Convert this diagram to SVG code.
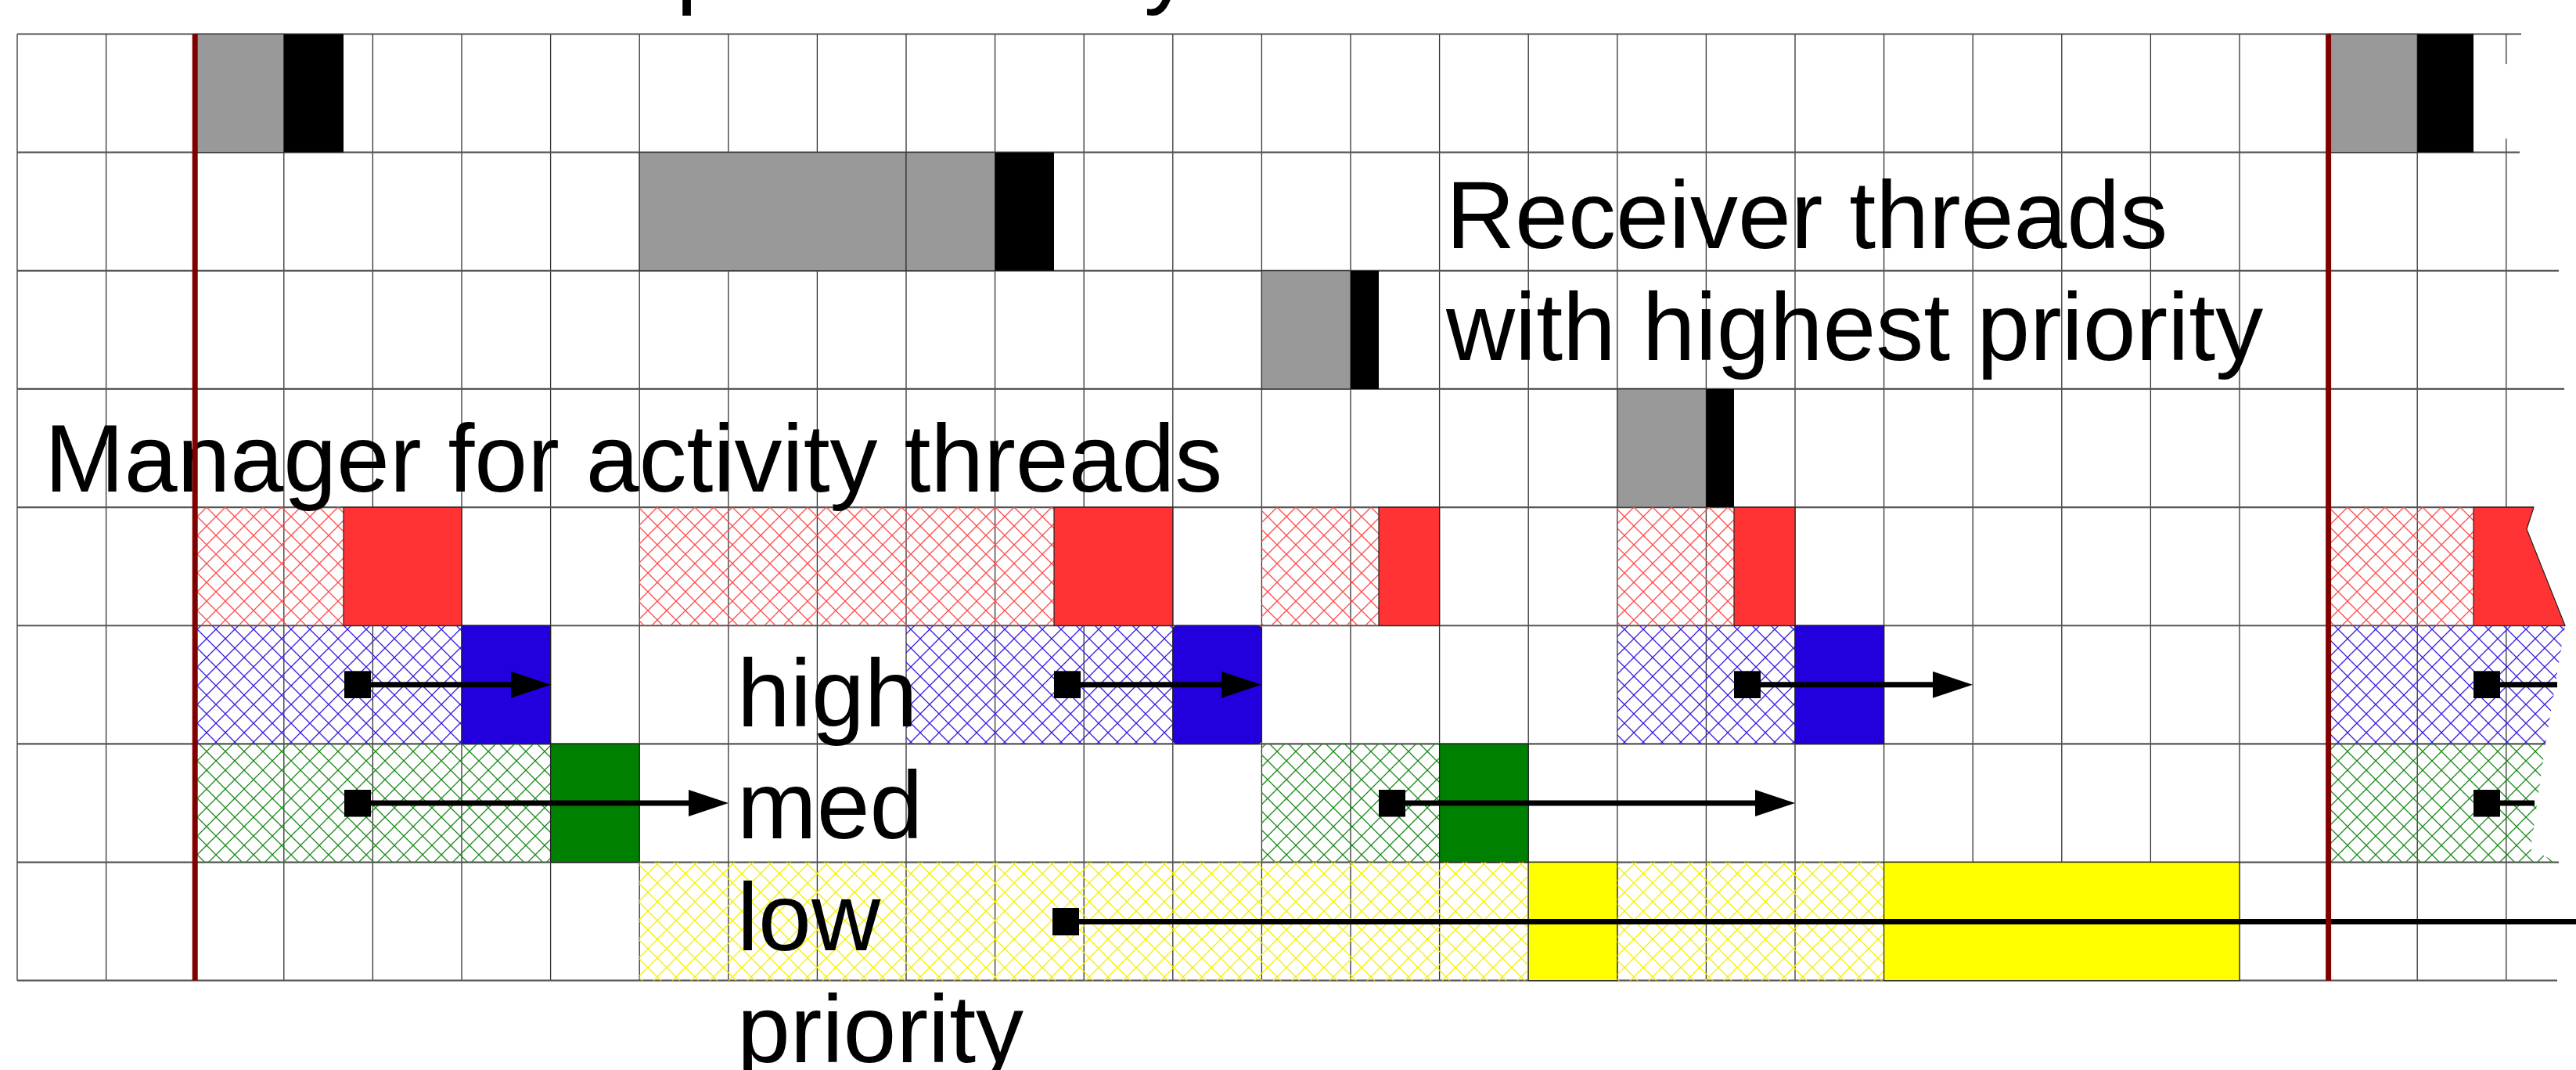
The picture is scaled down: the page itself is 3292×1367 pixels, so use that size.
<svg xmlns="http://www.w3.org/2000/svg" width="3292" height="1367" viewBox="0 0 3292 1367">
<style>
.lbl{font-family:"Liberation Sans",Arial,sans-serif;font-size:122px;fill:#000}
.vg{stroke:#333;stroke-width:1.3;fill:none}
.hg{stroke:#555;stroke-width:2.2;fill:none}
.gray{fill:#999;stroke:#333;stroke-width:1.2}
.blk{fill:#000}
.hr{fill:url(#hatchR)}
.hb{fill:url(#hatchB)}
.hgr{fill:url(#hatchG)}
.hy{fill:url(#hatchY)}
.sr{fill:#ff3333;stroke:#222;stroke-width:1.2}
.sb{fill:#2200dd;stroke:#222;stroke-width:1.2}
.sg{fill:#008000;stroke:#222;stroke-width:1.2}
.sy{fill:#ffff00;stroke:#222;stroke-width:1.2}
.conn{stroke:#000;stroke-width:7;fill:none;marker-start:url(#sq)}
.arr{marker-end:url(#ah)}
.deadline{stroke:#800000;stroke-width:7}
</style>
<defs>
<pattern id="hatchR" patternUnits="userSpaceOnUse" width="24" height="24"><path d="M0,0L24,24M24,0L0,24" stroke="#ff4a4a" stroke-width="1.3" fill="none"/></pattern>
<pattern id="hatchB" patternUnits="userSpaceOnUse" width="24" height="24"><path d="M0,0L24,24M24,0L0,24" stroke="#3a1ae0" stroke-width="1.3" fill="none"/></pattern>
<pattern id="hatchG" patternUnits="userSpaceOnUse" width="24" height="24"><path d="M0,0L24,24M24,0L0,24" stroke="#1a8a1a" stroke-width="1.3" fill="none"/></pattern>
<pattern id="hatchY" patternUnits="userSpaceOnUse" width="24" height="24"><path d="M0,0L24,24M24,0L0,24" stroke="#f5f000" stroke-width="1.3" fill="none"/></pattern>
<marker id="sq" markerUnits="userSpaceOnUse" markerWidth="34" markerHeight="35" refX="0" refY="17.5" orient="auto"><rect width="34" height="35" fill="#000"/></marker>
<marker id="ah" markerUnits="userSpaceOnUse" markerWidth="51" markerHeight="34" refX="30" refY="17" orient="auto"><path d="M0,0L51,17L0,34z" fill="#000"/></marker>
</defs>
<rect width="3292" height="1367" fill="#fff"/>

<g id="title-fragments">
<text class="lbl" x="864" y="-5">p</text>
<text class="lbl" x="1462" y="-5">y</text>
</g>

<g id="grid">
<path class="vg" d="M22,43.5V1252.7M135.6,43.5V1252.7M249.2,43.5V1252.7M362.8,43.5V1252.7M476.4,43.5V1252.7M590,43.5V1252.7M703.6,43.5V1252.7M817.2,43.5V1252.7M930.8,43.5V1252.7M1044.4,43.5V1252.7M1158,43.5V1252.7M1271.6,43.5V1252.7M1385.2,43.5V1252.7M1498.8,43.5V1252.7M1612.4,43.5V1252.7M1726,43.5V1252.7M1839.6,43.5V1252.7M1953.2,43.5V1252.7M2066.8,43.5V1252.7M2180.4,43.5V1252.7M2294,43.5V1252.7M2407.6,43.5V1252.7M2521.2,43.5V1252.7M2634.8,43.5V1252.7M2748.4,43.5V1252.7M2862,43.5V1252.7M2975.6,43.5V1252.7M3089.2,43.5V1252.7M3202.8,43.5V82M3202.8,177V1252.7"/>
<path class="hg" d="M22,43.5H3222M22,194.65H3220M22,345.8H3270M22,496.95H3277M22,648.1H3238M22,799.25H3278M22,950.4H3253M22,1101.55H3270M22,1252.7H3268"/>
</g>

<g id="receiver-1"><rect class="gray" x="249.2" y="43.5" width="113.6" height="151.15"/><rect class="blk" x="362.8" y="43.5" width="76.2" height="151.15"/></g>
<g id="receiver-1b"><rect class="gray" x="2975.6" y="43.5" width="113.6" height="151.15"/><rect class="blk" x="3089.2" y="43.5" width="71.8" height="151.15"/></g>
<g id="receiver-2"><rect class="gray" x="817.2" y="194.65" width="340.8" height="151.15"/><rect class="gray" x="1158" y="194.65" width="113.6" height="151.15"/><rect class="blk" x="1271.6" y="194.65" width="75.4" height="151.15"/></g>
<g id="receiver-3"><rect class="gray" x="1612.4" y="345.8" width="113.6" height="151.15"/><rect class="blk" x="1726" y="345.8" width="36" height="151.15"/></g>
<g id="receiver-4"><rect class="gray" x="2066.8" y="496.95" width="113.6" height="151.15"/><rect class="blk" x="2180.4" y="496.95" width="35.6" height="151.15"/></g>

<g id="manager-1"><rect class="hr" x="249.2" y="648.1" width="189.8" height="151.15"/><rect class="sr" x="439" y="648.1" width="151" height="151.15"/></g>
<g id="manager-2"><rect class="hr" x="817.2" y="648.1" width="529.8" height="151.15"/><rect class="sr" x="1347" y="648.1" width="151.8" height="151.15"/></g>
<g id="manager-3"><rect class="hr" x="1612.4" y="648.1" width="149.6" height="151.15"/><rect class="sr" x="1762" y="648.1" width="77.6" height="151.15"/></g>
<g id="manager-4"><rect class="hr" x="2066.8" y="648.1" width="149.2" height="151.15"/><rect class="sr" x="2216" y="648.1" width="78" height="151.15"/></g>
<g id="manager-5"><rect class="hr" x="2975.6" y="648.1" width="185.4" height="151.15"/><polygon class="sr" points="3161,648.1 3238,648.1 3229,676 3278,799.25 3161,799.25"/></g>

<g id="high-1"><rect class="hb" x="249.2" y="799.25" width="340.8" height="151.15"/><rect class="sb" x="590" y="799.25" width="113.6" height="151.15"/></g>
<g id="high-2"><rect class="hb" x="1158" y="799.25" width="340.8" height="151.15"/><rect class="sb" x="1498.8" y="799.25" width="113.6" height="151.15" rx="6"/></g>
<g id="high-3"><rect class="hb" x="2066.8" y="799.25" width="227.2" height="151.15"/><rect class="sb" x="2294" y="799.25" width="113.6" height="151.15"/></g>
<g id="high-4"><polygon class="hb" points="2975.6,799.25 3278,799.25 3253,950.4 2975.6,950.4"/></g>

<g id="med-1"><rect class="hgr" x="249.2" y="950.4" width="454.4" height="151.15"/><rect class="sg" x="703.6" y="950.4" width="113.6" height="151.15"/></g>
<g id="med-2"><rect class="hgr" x="1612.4" y="950.4" width="227.2" height="151.15"/><rect class="sg" x="1839.6" y="950.4" width="113.6" height="151.15"/></g>
<g id="med-3"><polygon class="hgr" points="2975.6,950.4 3253,950.4 3234,1085 3268,1101.55 2975.6,1101.55"/></g>

<g id="low-1"><rect class="hy" x="817.2" y="1101.55" width="1136" height="151.15"/><rect class="sy" x="1953.2" y="1101.55" width="113.6" height="151.15"/><rect class="hy" x="2066.8" y="1101.55" width="340.8" height="151.15"/><rect class="sy" x="2407.6" y="1101.55" width="454.4" height="151.15"/></g>

<g id="connectors">
<path class="conn arr" d="M440,874.8H683"/>
<path class="conn arr" d="M440,1026H910"/>
<path class="conn arr" d="M1347,874.8H1591"/>
<path class="conn arr" d="M1762,1026H2273"/>
<path class="conn arr" d="M2216,874.8H2500"/>
<path class="conn" d="M1345,1177.5H3292"/>
<path class="conn" d="M3161,874.8H3268"/>
<path class="conn" d="M3161,1026H3239"/>
</g>

<g id="labels">
<text class="lbl" x="1848" y="317"><tspan x="1848" y="317">Receiver threads</tspan><tspan x="1848" y="460">with highest priority</tspan></text>
<text class="lbl" x="57" y="628">Manager for activity threads</text>
<text class="lbl" x="942" y="928"><tspan x="942" y="928">high</tspan><tspan x="942" y="1071">med</tspan><tspan x="942" y="1214">low</tspan><tspan x="942" y="1357">priority</tspan></text>
</g>

<g id="deadlines">
<line class="deadline" x1="249.2" y1="43.5" x2="249.2" y2="1252.7"/>
<line class="deadline" x1="2975.6" y1="43.5" x2="2975.6" y2="1252.7"/>
</g>
</svg>
